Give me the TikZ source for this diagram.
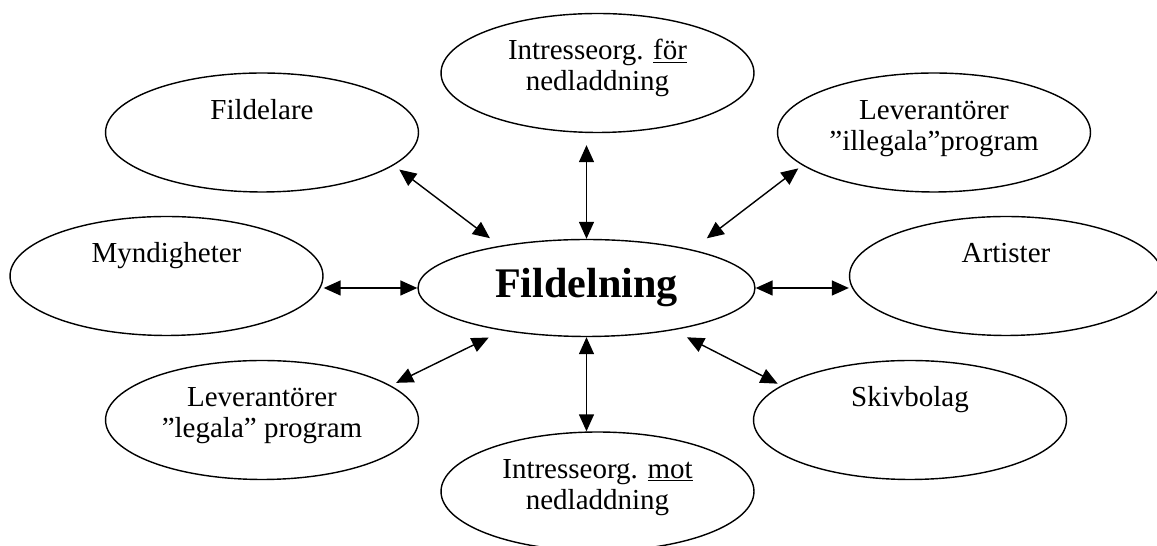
\documentclass[tikz,border=0pt]{standalone}
\usepackage{fontspec}
\setmainfont{Liberation Serif}
\usetikzlibrary{arrows.meta,shapes.geometric}

\newcommand{\ovaltext}[1]{\parbox[c][1.42cm][t]{4.3cm}{\centering\strut #1}}

\begin{document}
\begin{tikzpicture}[x=0.02cm,y=-0.02cm]
\tikzstyle{every node}+=[inner sep=0pt]
\tikzstyle{oval}=[draw, ellipse, line width=0.8pt, minimum width=6.26cm, minimum height=2.38cm, font=\fontsize{16.5}{17.9}\selectfont]
\tikzstyle{link}=[line width=0.8pt, {Triangle[length=0.34cm,width=0.3cm]}-{Triangle[length=0.34cm,width=0.3cm]}]

\useasboundingbox (0,0) rectangle (1157,546);
\clip (0,0) rectangle (1157,546);

\node [draw, ellipse, line width=0.8pt, minimum width=6.74cm, minimum height=1.94cm, font=\fontsize{24}{28}\selectfont\bfseries] (fildelning) at (586.5,288) {Fildelning};

\node [oval] (forg) at (597.5,73) {\ovaltext{Intresseorg. \underline{för}\\nedladdning}};
\node [oval] (fildelare) at (262,132.5) {\ovaltext{Fildelare}};
\node [oval] (illegala) at (934,132.5) {\ovaltext{Leverantörer\\”illegala”program}};
\node [oval] (myndig) at (166.5,276) {\ovaltext{Myndigheter}};
\node [oval] (artister) at (1006,276) {\ovaltext{Artister}};
\node [oval] (legala) at (262,420) {\ovaltext{Leverantörer\\”legala” program}};
\node [oval] (skivbolag) at (910,420) {\ovaltext{Skivbolag}};
\node [oval] (motorg) at (597.5,491.5) {\ovaltext{Intresseorg. \underline{mot}\\nedladdning}};

\draw [link, shorten <=0.24cm] (forg.south -| fildelning.north) -- (fildelning.north);
\draw [link] (fildelning.south) -- (motorg.north -| fildelning.south);
\draw [link] (fildelning.west -| myndig.east) -- (fildelning.west);
\draw [link] (fildelning.east) -- (fildelning.east -| artister.west);
\draw [link, shorten <=0.14cm, shorten >=0.25cm] (fildelare.-14.6) -- (fildelning.154.3);
\draw [link, shorten <=0.1cm, shorten >=0.37cm] (illegala.194.75) -- (fildelning.20);
\draw [link, shorten <=0.12cm, shorten >=0.31cm] (legala.15.1) -- (fildelning.207);
\draw [link, shorten <=0.08cm, shorten >=0.31cm] (skivbolag.165.1) -- (fildelning.-26.7);
\end{tikzpicture}
\end{document}
